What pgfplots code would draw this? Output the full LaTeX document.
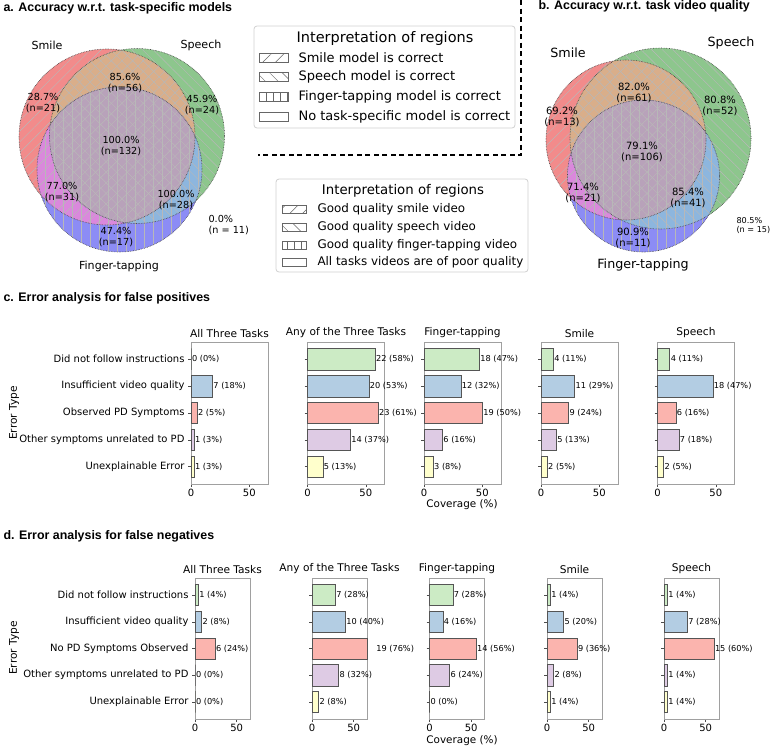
\documentclass[border=0pt]{standalone}
\usepackage{pgfplots}
\pgfplotsset{compat=1.18}
\usepackage{fontspec}
\setmainfont{DejaVu Sans}
\newfontfamily\hv{Liberation Sans}
\usetikzlibrary{patterns.meta}

\definecolor{cS}{HTML}{F28B8B}
\definecolor{cP}{HTML}{8DC68D}
\definecolor{cF}{HTML}{8C8CF5}
\definecolor{cSP}{HTML}{D9AE8A}
\definecolor{cSF}{HTML}{DA88DC}
\definecolor{cPF}{HTML}{8DB6DE}
\definecolor{cSPF}{HTML}{B8A2BA}
\definecolor{bG}{HTML}{CCEBC5}
\definecolor{bB}{HTML}{B3CDE3}
\definecolor{bR}{HTML}{FBB4AE}
\definecolor{bP}{HTML}{DECBE4}
\definecolor{bY}{HTML}{FFFFCC}
\definecolor{edge}{HTML}{555555}
\definecolor{frame}{HTML}{A0A0A0}

\tikzset{
  hS/.style={pattern={Lines[angle=45,distance=7.5pt,line width=0.45pt]},pattern color=black!28},
  hP/.style={pattern={Lines[angle=-45,distance=7.5pt,line width=0.45pt]},pattern color=black!28},
  hF/.style={pattern={Lines[angle=90,distance=9pt,line width=0.45pt]},pattern color=black!28},
  lS/.style={pattern={Lines[angle=45,distance=9pt,line width=0.5pt]},pattern color=black!60},
  lP/.style={pattern={Lines[angle=-45,distance=9pt,line width=0.5pt]},pattern color=black!60},
  lF/.style={pattern={Lines[angle=90,distance=7pt,line width=0.5pt]},pattern color=black!60},
  lbl/.style={anchor=west,inner sep=0.8pt,font=\fontsize{8.2}{9}\selectfont},
}

\newcommand\venn[9]{%
  \fill[cS] (axis cs:#1,#2) circle[radius=#3];
  \fill[cP] (axis cs:#4,#5) circle[radius=#6];
  \fill[cF] (axis cs:#7,#8) circle[radius=#9];
  \begin{scope}
    \clip (axis cs:#1,#2) circle[radius=#3];
    \fill[cSP] (axis cs:#4,#5) circle[radius=#6];
    \fill[cSF] (axis cs:#7,#8) circle[radius=#9];
  \end{scope}
  \begin{scope}
    \clip (axis cs:#4,#5) circle[radius=#6];
    \fill[cPF] (axis cs:#7,#8) circle[radius=#9];
  \end{scope}
  \begin{scope}
    \clip (axis cs:#1,#2) circle[radius=#3];
    \clip (axis cs:#4,#5) circle[radius=#6];
    \fill[cSPF] (axis cs:#7,#8) circle[radius=#9];
  \end{scope}
  \fill[hS] (axis cs:#1,#2) circle[radius=#3];
  \fill[hP] (axis cs:#4,#5) circle[radius=#6];
  \fill[hF] (axis cs:#7,#8) circle[radius=#9];
  \draw[densely dotted, black!75, line width=0.6pt] (axis cs:#1,#2) circle[radius=#3];
  \draw[densely dotted, black!75, line width=0.6pt] (axis cs:#4,#5) circle[radius=#6];
  \draw[densely dotted, black!75, line width=0.6pt] (axis cs:#7,#8) circle[radius=#9];
}

\newcommand\B[4]{%
  \addplot[xbar, bar width=0.8, bar shift=0pt, fill=#1, draw=edge, line width=0.6pt, restrict x to domain*=0:66] coordinates {(#3,#2)};
  \node[lbl] at (axis cs:#3,#2) {#4};
}

\pgfplotsset{
  ov/.style={at={(0pt,0pt)}, anchor=south west, x=1pt, y=1pt,
    xmin=0, xmax=770, ymin=0, ymax=745, y dir=reverse, hide axis, clip=false},
  bax/.style={
    anchor=south west, scale only axis,
    xmin=0, xmax=66, ymin=-0.64, ymax=4.64, y dir=reverse,
    ytick={0,1,2,3,4}, yticklabels={}, xtick={0,50},
    tick align=outside, xtick pos=bottom, ytick pos=left,
    major tick length=3pt,
    axis line style={draw=frame, line width=0.8pt},
    tick style={draw=black!70, line width=0.6pt},
    tick label style={font=\fontsize{10}{12}\selectfont},
    xticklabel style={inner sep=1.5pt},
    /pgf/number format/assume math mode=true,
    title style={font=\fontsize{10.6}{12}\selectfont, inner sep=2pt, yshift=-4pt},
    clip=false,
  },
}

\begin{document}
\begin{tikzpicture}[x=1pt,y=1pt]
\useasboundingbox (0,0) rectangle (770,745);
\begin{axis}[ov]
\addplot[draw=none] coordinates {(0,0) (770,745)};
% ---- panel a
\venn{107}{137}{88}{137}{136}{87.5}{119.5}{169.5}{82.5}
% ---- panel b
\venn{626}{140}{80}{660.5}{138.5}{90.5}{643.5}{176}{76}

\node[anchor=west, font=\hv\bfseries\fontsize{12.4}{14}\selectfont] at (axis cs:0,8) {a. Accuracy w.r.t. task-specific models};
\node[anchor=west, font=\hv\bfseries\fontsize{12.4}{14}\selectfont] at (axis cs:535,6) {b. Accuracy w.r.t. task video quality};

\begin{scope}[every node/.style={align=center, font=\fontsize{9.7}{11.5}\selectfont}]
\node at (axis cs:125,83) {85.6\%\\(n=56)};
\node at (axis cs:43,103) {28.7\%\\(n=21)};
\node at (axis cs:202,105) {45.9\%\\(n=24)};
\node at (axis cs:121,146) {100.0\%\\(n=132)};
\node at (axis cs:62,192) {77.0\%\\(n=31)};
\node at (axis cs:176,200) {100.0\%\\(n=28)};
\node at (axis cs:116,237) {47.4\%\\(n=17)};
\node[anchor=west, align=left] at (axis cs:205,225) {0.0\%\\(n = 11)};
\end{scope}
\begin{scope}[every node/.style={font=\fontsize{11.1}{13}\selectfont}]
\node at (axis cs:47,45) {Smile};
\node at (axis cs:201,45) {Speech};
\node at (axis cs:119,266) {Finger-tapping};
\end{scope}

\begin{scope}[every node/.style={align=center, font=\fontsize{10}{11.5}\selectfont}]
\node at (axis cs:634,93) {82.0\%\\(n=61)};
\node at (axis cs:562,117) {69.2\%\\(n=13)};
\node at (axis cs:720,106) {80.8\%\\(n=52)};
\node at (axis cs:642,152) {79.1\%\\(n=106)};
\node at (axis cs:583,193) {71.4\%\\(n=21)};
\node at (axis cs:688,198) {85.4\%\\(n=41)};
\node at (axis cs:633,238) {90.9\%\\(n=11)};
\end{scope}
\node[anchor=west, align=left, font=\fontsize{8.1}{9.3}\selectfont] at (axis cs:733,225.5) {80.5\%\\(n = 15)};
\begin{scope}[every node/.style={font=\fontsize{12.7}{14}\selectfont}]
\node at (axis cs:568,53) {Smile};
\node at (axis cs:731,43) {Speech};
\node at (axis cs:643,265) {Finger-tapping};
\end{scope}

% ---- legend a
\draw[rounded corners=3pt, draw=black!18, fill=white, line width=0.8pt] (axis cs:254,26) rectangle (axis cs:515,128);
\node[font=\fontsize{14.5}{16}\selectfont] at (axis cs:385,38) {Interpretation of regions};
\draw[black!60, line width=0.6pt, lS] (axis cs:259,53.5) rectangle (axis cs:288,62.5);
\draw[black!60, line width=0.6pt, lP] (axis cs:259,72.5) rectangle (axis cs:288,81.5);
\draw[black!60, line width=0.6pt, lF] (axis cs:259,92.5) rectangle (axis cs:288,101.5);
\draw[black!60, line width=0.6pt] (axis cs:259,112.5) rectangle (axis cs:288,121.5);
\begin{scope}[every node/.style={anchor=west, font=\fontsize{13}{15}\selectfont}]
\node at (axis cs:295,58) {Smile model is correct};
\node at (axis cs:295,77) {Speech model is correct};
\node at (axis cs:295,97) {Finger-tapping model is correct};
\node at (axis cs:295,117) {No task-specific model is correct};
\end{scope}

% ---- legend b
\draw[rounded corners=3pt, draw=black!18, fill=white, line width=0.8pt] (axis cs:276,179) rectangle (axis cs:528,272);
\node[font=\fontsize{13.3}{15}\selectfont] at (axis cs:403,191) {Interpretation of regions};
\draw[black!60, line width=0.6pt, lS] (axis cs:282,205) rectangle (axis cs:306,213);
\draw[black!60, line width=0.6pt, lP] (axis cs:282,223) rectangle (axis cs:306,231);
\draw[black!60, line width=0.6pt, lF] (axis cs:282,241) rectangle (axis cs:306,249);
\draw[black!60, line width=0.6pt] (axis cs:282,258) rectangle (axis cs:306,266);
\begin{scope}[every node/.style={anchor=west, font=\fontsize{11.9}{14}\selectfont}]
\node at (axis cs:314,209) {Good quality smile video};
\node at (axis cs:314,227) {Good quality speech video};
\node at (axis cs:314,245) {Good quality finger-tapping video};
\node at (axis cs:314,262) {All tasks videos are of poor quality};
\end{scope}

% ---- separator
\draw[line width=2.2pt, dash pattern=on 5pt off 3.5pt] (axis cs:521,0) -- (axis cs:521,155) -- (axis cs:258,155);

% ---- headers for c and d
\node[anchor=west, font=\hv\bfseries\fontsize{12.4}{14}\selectfont] at (axis cs:0,298) {c. Error analysis for false positives};
\node[anchor=west, font=\hv\bfseries\fontsize{12.4}{14}\selectfont] at (axis cs:0,536) {d. Error analysis for false negatives};
\node[rotate=90, font=\fontsize{10.6}{12}\selectfont] at (axis cs:14,413) {Error Type};
\node[rotate=90, font=\fontsize{10.6}{12}\selectfont] at (axis cs:14,648) {Error Type};
\node[font=\fontsize{10.4}{12}\selectfont, inner sep=0pt] at (axis cs:462,505) {Coverage (\%)};
\node[font=\fontsize{10.4}{12}\selectfont, inner sep=0pt] at (axis cs:462,740.5) {Coverage (\%)};
\end{axis}

% ================= row c (false positives, n=38)
\begin{axis}[bax, at={(191pt,261pt)}, width=77pt, height=142pt, title={All Three Tasks},
  yticklabels={Did not follow instructions, Insufficient video quality, Observed PD Symptoms, Other symptoms unrelated to PD, Unexplainable Error}]
\B{bG}{0}{0}{0 (0\%)}
\B{bB}{1}{18.4}{7 (18\%)}
\B{bR}{2}{5.3}{2 (5\%)}
\B{bP}{3}{2.6}{1 (3\%)}
\B{bY}{4}{2.6}{1 (3\%)}
\end{axis}
\begin{axis}[bax, at={(307.5pt,261pt)}, width=77pt, height=142pt, title={Any of the Three Tasks}]
\B{bG}{0}{57.9}{22 (58\%)}
\B{bB}{1}{52.6}{20 (53\%)}
\B{bR}{2}{60.5}{23 (61\%)}
\B{bP}{3}{36.8}{14 (37\%)}
\B{bY}{4}{13.2}{5 (13\%)}
\end{axis}
\begin{axis}[bax, at={(424pt,261pt)}, width=77pt, height=142pt, title={Finger-tapping}]
\B{bG}{0}{47.4}{18 (47\%)}
\B{bB}{1}{31.6}{12 (32\%)}
\B{bR}{2}{50.0}{19 (50\%)}
\B{bP}{3}{15.8}{6 (16\%)}
\B{bY}{4}{7.9}{3 (8\%)}
\end{axis}
\begin{axis}[bax, at={(541pt,261pt)}, width=77pt, height=142pt, title={Smile}]
\B{bG}{0}{10.5}{4 (11\%)}
\B{bB}{1}{28.9}{11 (29\%)}
\B{bR}{2}{23.7}{9 (24\%)}
\B{bP}{3}{13.2}{5 (13\%)}
\B{bY}{4}{5.3}{2 (5\%)}
\end{axis}
\begin{axis}[bax, at={(657.5pt,261pt)}, width=77pt, height=142pt, title={Speech}]
\B{bG}{0}{10.5}{4 (11\%)}
\B{bB}{1}{47.4}{18 (47\%)}
\B{bR}{2}{15.8}{6 (16\%)}
\B{bP}{3}{18.4}{7 (18\%)}
\B{bY}{4}{5.3}{2 (5\%)}
\end{axis}

% ================= row d (false negatives, n=25)
\begin{axis}[bax, at={(195pt,26pt)}, width=55pt, height=141pt, title={All Three Tasks},
  yticklabels={Did not follow instructions, Insufficient video quality, No PD Symptoms Observed, Other symptoms unrelated to PD, Unexplainable Error}]
\B{bG}{0}{4}{1 (4\%)}
\B{bB}{1}{8}{2 (8\%)}
\B{bR}{2}{24}{6 (24\%)}
\B{bP}{3}{0}{0 (0\%)}
\B{bY}{4}{0}{0 (0\%)}
\end{axis}
\begin{axis}[bax, at={(312pt,26pt)}, width=55pt, height=141pt, title={Any of the Three Tasks}]
\B{bG}{0}{28}{7 (28\%)}
\B{bB}{1}{40}{10 (40\%)}
\B{bR}{2}{76}{19 (76\%)}
\B{bP}{3}{32}{8 (32\%)}
\B{bY}{4}{8}{2 (8\%)}
\end{axis}
\begin{axis}[bax, at={(429.5pt,26pt)}, width=55pt, height=141pt, title={Finger-tapping}]
\B{bG}{0}{28}{7 (28\%)}
\B{bB}{1}{16}{4 (16\%)}
\B{bR}{2}{56}{14 (56\%)}
\B{bP}{3}{24}{6 (24\%)}
\B{bY}{4}{0}{0 (0\%)}
\end{axis}
\begin{axis}[bax, at={(547pt,26pt)}, width=55pt, height=141pt, title={Smile}]
\B{bG}{0}{4}{1 (4\%)}
\B{bB}{1}{20}{5 (20\%)}
\B{bR}{2}{36}{9 (36\%)}
\B{bP}{3}{8}{2 (8\%)}
\B{bY}{4}{4}{1 (4\%)}
\end{axis}
\begin{axis}[bax, at={(664pt,26pt)}, width=55pt, height=141pt, title={Speech}]
\B{bG}{0}{4}{1 (4\%)}
\B{bB}{1}{28}{7 (28\%)}
\B{bR}{2}{60}{15 (60\%)}
\B{bP}{3}{4}{1 (4\%)}
\B{bY}{4}{4}{1 (4\%)}
\end{axis}
\end{tikzpicture}
\end{document}
